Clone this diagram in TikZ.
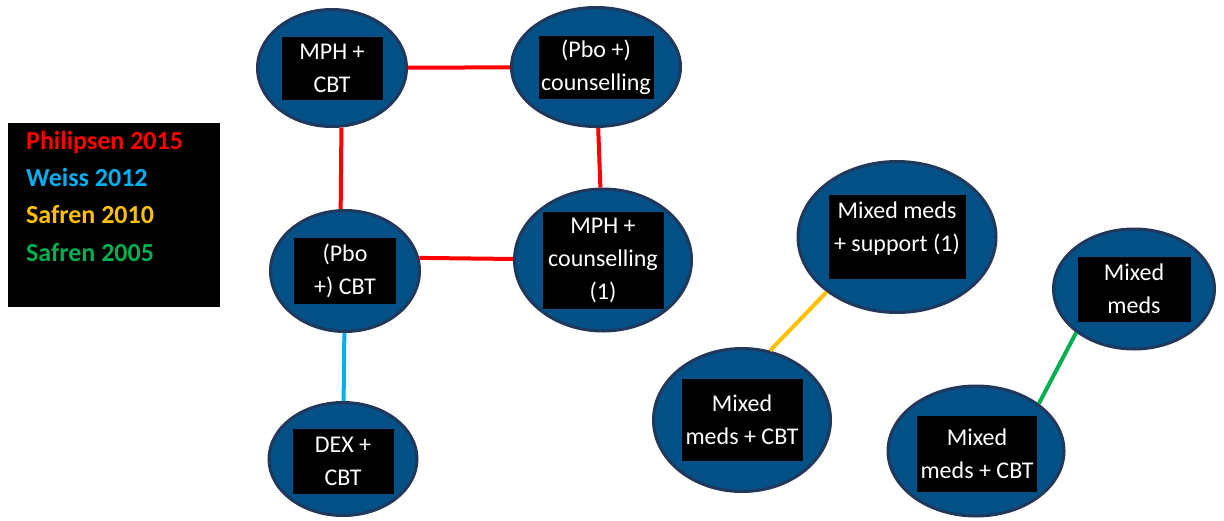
\documentclass[tikz,border=0pt]{standalone}
\usepackage{fontspec}
\setmainfont{Carlito}
\usetikzlibrary{shapes.geometric}

\definecolor{nodeblue}{RGB}{4,81,135}
\definecolor{nodeedge}{RGB}{31,56,92}
\definecolor{wblue}{RGB}{0,176,240}
\definecolor{sorange}{RGB}{255,192,0}
\definecolor{sgreen}{RGB}{0,176,80}

\begin{document}
\begin{tikzpicture}
  [
   x=1pt,y=-1pt,
   tn/.style={ellipse,draw=nodeedge,line width=3pt,fill=nodeblue,inner sep=0pt},
   lb/.style={rectangle,fill=black,text=white,inner sep=0pt,align=center,font=\fontsize{24}{33}\selectfont},
   ln/.style={anchor=base west,inner sep=0pt,font=\fontsize{26}{31}\selectfont\bfseries},
   re/.style={-,line width=4pt,color=red},
   be/.style={-,line width=4pt,color=wblue},
   ye/.style={-,line width=4pt,color=sorange},
   ge/.style={-,line width=4pt,color=sgreen}
  ]
   \useasboundingbox (0,0) rectangle (1224,520);

   % legend
   \node[rectangle,fill=black,inner sep=0pt,minimum width=212pt,minimum height=184pt] (legend) at (114,215) {};
   \node[ln,text=red] (leg1) at (26,149) {Philipsen 2015};
   \node[ln,text=wblue] (leg2) at (26,186) {Weiss 2012};
   \node[ln,text=sorange] (leg3) at (26,223) {Safren 2010};
   \node[ln,text=sgreen] (leg4) at (26,261) {Safren 2005};

   % treatments
   \node[tn,minimum width=149pt,minimum height=117pt] (mphcbt) at (332,68) {};
   \node[lb,minimum width=101pt,minimum height=63pt] (mphcbt-t) at (mphcbt) {MPH +\\CBT};

   \node[tn,minimum width=169pt,minimum height=119pt] (pbocoun) at (596,67) {};
   \node[lb,minimum width=115pt,minimum height=63pt] (pbocoun-t) at (pbocoun) {(Pbo +)\\counselling};

   \node[tn,minimum width=149pt,minimum height=121pt] (pbocbt) at (345,271) {};
   \node[lb,minimum width=102pt,minimum height=66pt] (pbocbt-t) at (pbocbt) {(Pbo\\+) CBT};

   \node[tn,minimum width=177pt,minimum height=142pt] (mphcoun) at (603,260) {};
   \node[lb,minimum width=121pt,minimum height=97pt] (mphcoun-t) at (mphcoun) {MPH +\\counselling\\(1)};

   \node[tn,minimum width=148pt,minimum height=113pt] (dexcbt) at (343,459) {};
   \node[lb,minimum width=101pt,minimum height=65pt] (dexcbt-t) at (343,461) {DEX +\\CBT};

   \node[tn,minimum width=198pt,minimum height=151pt] (mixsup) at (897,237) {};
   \node[lb,minimum width=137pt,minimum height=84pt,text depth=20pt] (mixsup-t) at (mixsup) {Mixed meds\\+ support (1)};

   \node[tn,minimum width=177pt,minimum height=143pt] (mixcbt) at (742,420) {};
   \node[lb,minimum width=121pt,minimum height=82pt] (mixcbt-t) at (mixcbt) {Mixed\\meds + CBT};

   \node[tn,minimum width=161pt,minimum height=120pt] (mixmeds) at (1134,289) {};
   \node[lb,minimum width=113pt,minimum height=65pt] (mixmeds-t) at (mixmeds) {Mixed\\meds};

   \node[tn,minimum width=176pt,minimum height=130pt] (mixcbtb) at (976,451) {};
   \node[lb,minimum width=120pt,minimum height=76pt] (mixcbtb-t) at (977,454) {Mixed\\meds + CBT};

   \draw[re] (mphcbt) -- (pbocoun);
   \draw[re] (mphcbt.-81) -- (pbocbt.94);
   \draw[re] (pbocoun) -- (mphcoun);
   \draw[re] (pbocbt.10) -- (mphcoun);
   \draw[be] (pbocbt) -- (dexcbt);
   \draw[ye] (mixsup.218) -- (mixcbt.68);
   \draw[ge] (mixmeds.217) -- (mixcbtb.37);

\end{tikzpicture}
\end{document}
